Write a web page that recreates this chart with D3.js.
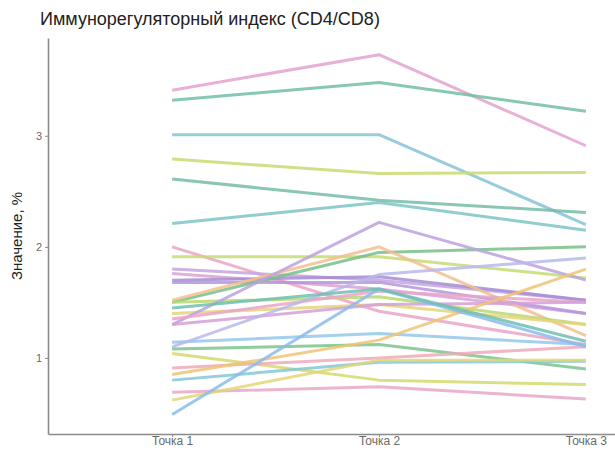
<!DOCTYPE html>
<html>
<head>
<meta charset="utf-8">
<script src="https://cdn.jsdelivr.net/npm/d3@7/dist/d3.min.js"></script>
<style>
	body { margin: 0; background: #fff; }
	#main { width: 615px; height: 452px; }
</style>
</head>
<body>
<div id="main"></div>
<script>
// Datos: puntos de medición y valores de cada paciente (mismo índice en los tres arreglos)
var puntos = ["Точка 1", "Точка 2", "Точка 3"];
var valoresT1 = [3.41, 3.32, 3.01, 2.79, 2.61, 2.21, 2.00, 1.91, 1.80, 1.76, 1.70, 1.68, 1.50, 1.52, 1.50,
	1.40, 1.30, 1.35, 1.30, 1.14, 1.10, 1.08, 1.04, 0.91, 0.85, 0.80, 0.69, 0.62, 0.49, 1.45];
var valoresT2 = [3.73, 3.48, 3.01, 2.66, 2.42, 2.40, 1.42, 1.91, 1.70, 1.62, 1.73, 1.68, 1.95, 2.00, 1.55,
	1.48, 2.22, 1.60, 1.48, 1.22, 1.75, 1.12, 0.80, 1.00, 1.16, 0.96, 0.74, 0.98, 1.62, 1.62];
var valoresT3 = [2.91, 3.22, 2.20, 2.67, 2.31, 2.15, 1.12, 1.72, 1.52, 1.40, 1.52, 1.40, 2.00, 1.20, 1.30,
	1.30, 1.70, 1.50, 1.50, 1.12, 1.90, 0.90, 0.76, 1.10, 1.80, 0.97, 0.63, 0.98, 1.10, 1.15];
var yTicks = [1, 2, 3];

var colores = ["#e4a2cf", "#72bea4", "#86c2d6", "#c9da6e", "#74bca6", "#7cc4c6", "#eaa6c6", "#c6dc74",
	"#c4a4e0", "#dca2d2", "#a68cd4", "#b496da", "#78c088", "#f2c08e", "#b8d86e", "#e4d47a", "#bca2de",
	"#e8a4cc", "#d4a0d8", "#92c8ea", "#b8b8ec", "#7cc48c", "#d2da6e", "#f0aabc", "#f0c474", "#84c8d6",
	"#e8a8c8", "#e2d676", "#88bcec", "#70c0b0"];

var totalWidth = 615;
var totalHeight = 452;

function dibujarGrafico() {
	var svg = d3.select("#main").append("svg")
		.attr("width", totalWidth)
		.attr("height", totalHeight)
		.style("font-family", "Liberation Sans, Arial, sans-serif");

	var x = d3.scalePoint().domain(puntos).range([48, 710]).padding(0.6);
	var y = d3.scaleLinear().domain([0.315, 3.88]).range([434, 38]);

	// Series
	var series = valoresT1.map(function(v, i) {
		return [valoresT1[i], valoresT2[i], valoresT3[i]];
	});
	var linea = d3.line()
		.x(function(d, j) { return x(puntos[j]); })
		.y(function(d) { return y(d); });

	svg.append("g").selectAll("path")
		.data(series)
		.enter().append("path")
		.attr("d", linea)
		.attr("fill", "none")
		.attr("stroke", function(d, i) { return colores[i]; })
		.attr("stroke-width", 3)
		.attr("stroke-opacity", 0.85)
		.attr("stroke-linejoin", "round");

	// Ejes
	var ejeY = svg.append("g")
		.attr("transform", "translate(48,0)")
		.call(d3.axisLeft(y).tickValues(yTicks).tickSize(3).tickSizeOuter(0).tickFormat(d3.format("d")));
	var ejeX = svg.append("g")
		.attr("transform", "translate(0,434)")
		.call(d3.axisBottom(x).tickSize(3).tickSizeOuter(0));

	[ejeY, ejeX].forEach(function(eje) {
		eje.select(".domain").attr("stroke", "#8a8a8a").attr("stroke-width", 1.6);
		eje.selectAll(".tick line").attr("stroke", "#8a8a8a");
		eje.selectAll(".tick text").attr("fill", "#6a6a6a").style("font-size", "11px");
	});
	ejeX.selectAll(".tick text").style("font-size", "12px").attr("y", 2).attr("dy", "0.71em");

	// Textos
	svg.append("text")
		.attr("x", 40)
		.attr("y", 25)
		.attr("fill", "#222")
		.style("font-size", "18px")
		.text("Иммунорегуляторный индекс (CD4/CD8)");

	svg.append("text")
		.attr("transform", "translate(22,236) rotate(-90)")
		.attr("text-anchor", "middle")
		.attr("fill", "#222")
		.style("font-size", "15px")
		.text("Значение, %");
}

dibujarGrafico();
</script>
</body>
</html>
